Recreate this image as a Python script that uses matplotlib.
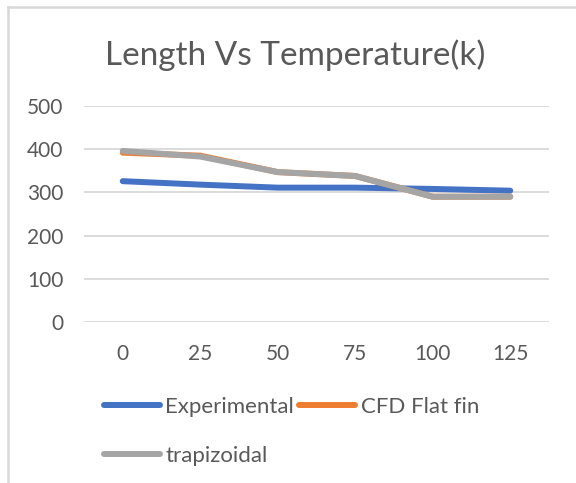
import matplotlib.pyplot as plt
from matplotlib.lines import Line2D

plt.rcParams["font.family"] = ["Lato", "DejaVu Sans"]

lengths = ["0", "25", "50", "75", "100", "125"]
experimental = [326, 318, 311, 311, 308, 304]
cfd_flat_fin = [392, 385, 347, 338, 290, 290]
trapizoidal = [396, 383, 347, 338, 290, 290]

TEXT = "#595959"
GRID = "#D9D9D9"

fig = plt.figure(figsize=(5.76, 4.83), dpi=100)
ax = fig.add_axes([84 / 576, 1 - 322 / 483, 465 / 576, 216 / 483])

x = range(len(lengths))
ax.plot(x, experimental, color="#4472C4", lw=4.3, solid_capstyle="round",
        label="Experimental")
ax.plot(x, cfd_flat_fin, color="#ED7D31", lw=4.3, solid_capstyle="round",
        label="CFD Flat fin")
ax.plot(x, trapizoidal, color="#A5A5A5", lw=4.3, solid_capstyle="round",
        label="trapizoidal")

ax.set_xlim(-0.5, len(lengths) - 0.5)
ax.set_ylim(0, 500)
ax.set_yticks(range(0, 501, 100))
ax.set_xticks(list(x))
ax.set_xticklabels(lengths)
ax.grid(axis="y", color=GRID, lw=1.3)
ax.set_axisbelow(True)
for s in ax.spines.values():
    s.set_visible(False)
ax.tick_params(length=0, labelsize=15, colors=TEXT)
ax.tick_params(axis="x", pad=16)
ax.tick_params(axis="y", pad=15)

fig.text(295 / 576, 1 - 55 / 483, "Length Vs Temperature(k)", ha="center",
         va="center", fontsize=24, color=TEXT)

handles = [
    Line2D([], [], color="#4472C4", lw=4.3, solid_capstyle="round"),
    Line2D([], [], color="#A5A5A5", lw=4.3, solid_capstyle="round"),
    Line2D([], [], color="#ED7D31", lw=4.3, solid_capstyle="round"),
]
labels = ["Experimental", "trapizoidal", "CFD Flat fin"]
leg = fig.legend(handles, labels, loc="upper left",
                 bbox_to_anchor=(104 / 576, 1 - 397 / 483), ncol=2,
                 frameon=False, fontsize=16, handlelength=2.5,
                 handletextpad=0.25, columnspacing=0.25, labelspacing=1.3,
                 borderpad=0, borderaxespad=0)
for t in leg.get_texts():
    t.set_color(TEXT)

# chart frame (left and top edges visible)
fig.add_artist(Line2D([8 / 576, 8 / 576], [0, 1 - 7 / 483], color=GRID,
                      lw=1.8, transform=fig.transFigure))
fig.add_artist(Line2D([8 / 576, 1], [1 - 7 / 483, 1 - 7 / 483], color=GRID,
                      lw=1.8, transform=fig.transFigure))

fig.savefig("out.png", dpi=100)
